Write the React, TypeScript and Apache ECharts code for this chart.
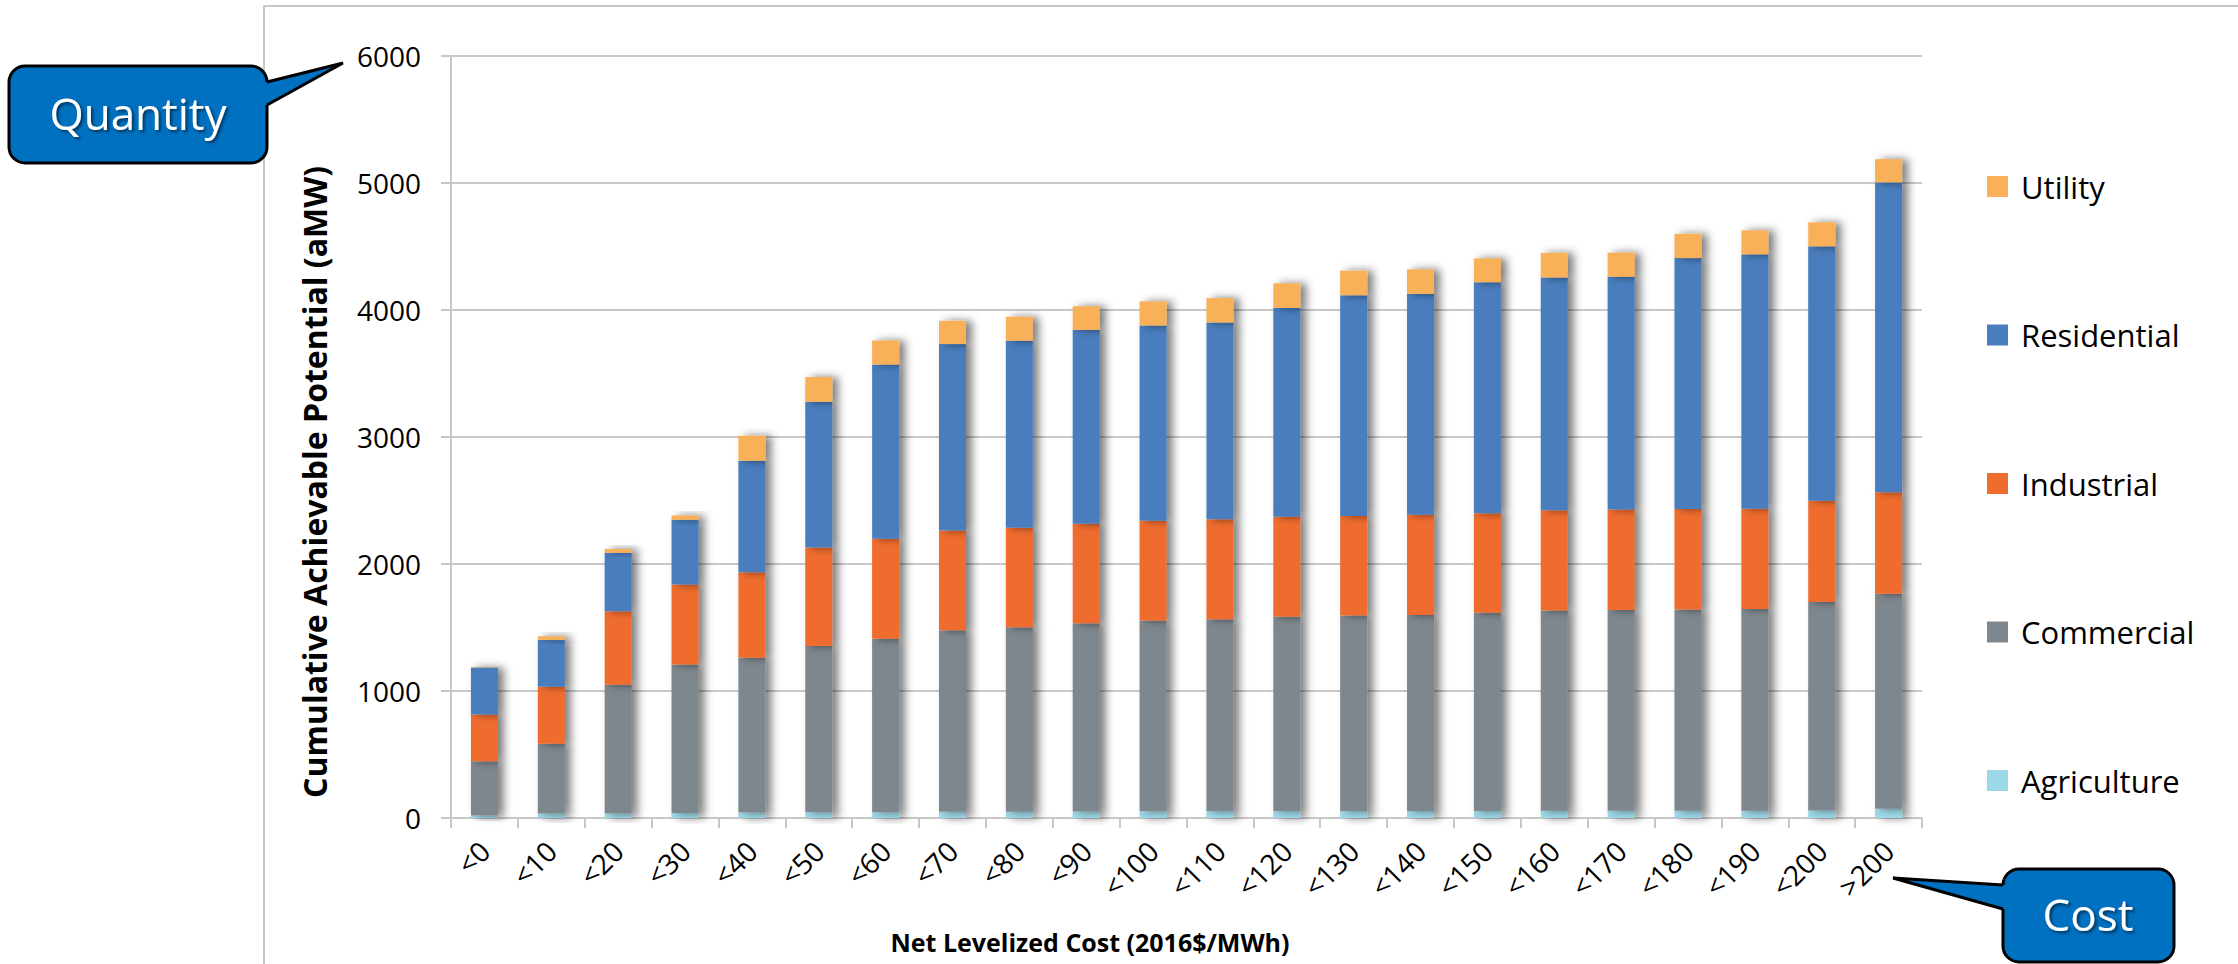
import React, { useEffect, useRef } from 'react';
import * as echarts from 'echarts';

// Net levelized cost bins (2016$/MWh)
const categories = [
  '<0', '<10', '<20', '<30', '<40', '<50', '<60', '<70', '<80', '<90', '<100',
  '<110', '<120', '<130', '<140', '<150', '<160', '<170', '<180', '<190', '<200', '>200',
];

// Cumulative achievable potential by sector (aMW), stacked bottom to top
const agriculture = [20, 36, 36, 40, 43, 46, 46, 50, 50, 52, 53, 54, 55, 55, 56, 56, 57, 57, 58, 58, 60, 72];
const commercial = [426, 549, 1014, 1168, 1219, 1309, 1366, 1429, 1452, 1481, 1503, 1511, 1529, 1540, 1543, 1561, 1577, 1580, 1584, 1587, 1640, 1694];
const industrial = [369, 449, 577, 631, 674, 775, 786, 784, 783, 783, 785, 787, 788, 783, 788, 782, 790, 793, 792, 791, 798, 798];
const residential = [371, 368, 461, 509, 877, 1147, 1372, 1469, 1473, 1527, 1537, 1550, 1644, 1738, 1740, 1820, 1832, 1832, 1975, 2002, 2003, 2441];
const utility = [4, 29, 30, 34, 197, 195, 190, 183, 188, 187, 190, 192, 194, 194, 193, 188, 194, 190, 191, 189, 189, 183];

const sectorNames = ['Agriculture', 'Commercial', 'Industrial', 'Residential', 'Utility'];
const sectorValues = [agriculture, commercial, industrial, residential, utility];
const sectorColors = ['#9CD8E7', '#7E878D', '#EF6C2F', '#4A7DBD', '#F8B158'];
const legendOrder = ['Utility', 'Residential', 'Industrial', 'Commercial', 'Agriculture'];

const yMin = 0;
const yMax = 6000;
const yStep = 1000;

const xTitle = 'Net Levelized Cost (2016$/MWh)';
const yTitle = 'Cumulative Achievable Potential (aMW)';

const FONT = '"Open Sans", "Noto Sans", Lato, sans-serif';
const GRID_GRAY = '#C8C8C8';
const CALLOUT_BLUE = '#0070C0';

function callout(
  box: { x: number; y: number; w: number; h: number },
  wedge: { a: [number, number]; tip: [number, number]; b: [number, number]; inset: number },
  label: string,
  labelPos: [number, number],
) {
  const [ax, ay] = wedge.a;
  const [bx, by] = wedge.b;
  return [
    {
      type: 'rect',
      z: 100,
      shape: { x: box.x, y: box.y, width: box.w, height: box.h, r: 16 },
      style: { fill: CALLOUT_BLUE, stroke: '#000', lineWidth: 3 },
    },
    {
      type: 'polygon',
      z: 101,
      shape: {
        points: [
          [ax + wedge.inset, ay],
          [ax, ay],
          wedge.tip,
          [bx, by],
          [bx + wedge.inset, by],
        ],
      },
      style: { fill: CALLOUT_BLUE },
    },
    {
      type: 'polyline',
      z: 102,
      shape: { points: [wedge.a, wedge.tip, wedge.b] },
      style: { fill: 'none', stroke: '#000', lineWidth: 3, lineJoin: 'miter' },
    },
    {
      type: 'text',
      z: 103,
      x: labelPos[0],
      y: labelPos[1],
      style: {
        text: label,
        align: 'center',
        verticalAlign: 'middle',
        fill: '#FFFFFF',
        fontSize: 44,
        fontFamily: FONT,
        textShadowColor: 'rgba(0,0,0,0.55)',
        textShadowBlur: 3,
        textShadowOffsetX: 2,
        textShadowOffsetY: 2,
      },
    },
  ];
}

export default function App() {
  const ref = useRef<HTMLDivElement>(null);

  useEffect(() => {
    if (!ref.current) return;
    const chart = echarts.init(ref.current, undefined, { renderer: 'svg' });

    const series = sectorNames.map((name, i) => ({
      name,
      type: 'bar',
      stack: 'total',
      barWidth: 27,
      data: sectorValues[i],
      itemStyle: {
        color: sectorColors[i],
        shadowColor: 'rgba(0,0,0,0.5)',
        shadowBlur: 9,
        shadowOffsetX: 6,
        shadowOffsetY: 0,
      },
      emphasis: { disabled: true },
    }));

    chart.setOption({
      animation: false,
      backgroundColor: '#FFFFFF',
      textStyle: { fontFamily: FONT },
      grid: { left: 451, top: 56, width: 1471, height: 762, containLabel: false },
      legend: {
        orient: 'vertical',
        left: 1987,
        top: 171,
        padding: 0,
        itemWidth: 21,
        itemHeight: 21,
        itemGap: 117.5,
        icon: 'rect',
        data: legendOrder,
        selectedMode: false,
        textStyle: { fontSize: 31, color: '#000', fontFamily: FONT, padding: [0, 0, 0, 8] },
      },
      xAxis: {
        type: 'category',
        data: categories,
        axisLine: { show: true, lineStyle: { color: GRID_GRAY, width: 2 } },
        axisTick: { show: true, length: 10, lineStyle: { color: GRID_GRAY, width: 2 } },
        axisLabel: { rotate: 45, fontSize: 28, color: '#000', margin: 28, interval: 0, fontFamily: FONT },
      },
      yAxis: {
        type: 'value',
        min: yMin,
        max: yMax,
        interval: yStep,
        axisLine: { show: true, lineStyle: { color: GRID_GRAY, width: 2 } },
        axisTick: { show: true, length: 10, lineStyle: { color: GRID_GRAY, width: 2 } },
        axisLabel: {
          fontSize: 28,
          color: '#000',
          margin: 30,
          fontFamily: FONT,
          formatter: (v: number) => String(v),
        },
        splitLine: { show: true, lineStyle: { color: GRID_GRAY, width: 2 } },
      },
      series,
      graphic: [
        {
          type: 'rect',
          z: 0,
          silent: true,
          shape: { x: 264, y: 6, width: 2400, height: 1200 },
          style: { fill: 'none', stroke: GRID_GRAY, lineWidth: 2 },
        },
        {
          type: 'text',
          z: 50,
          x: 1090,
          y: 942,
          style: {
            text: xTitle,
            align: 'center',
            verticalAlign: 'middle',
            fill: '#000',
            fontSize: 25,
            fontWeight: 'bold',
            fontFamily: FONT,
          },
        },
        {
          type: 'text',
          z: 50,
          x: 314,
          y: 482,
          rotation: Math.PI / 2,
          style: {
            text: yTitle,
            align: 'center',
            verticalAlign: 'middle',
            fill: '#000',
            fontSize: 32,
            fontWeight: 'bold',
            fontFamily: FONT,
          },
        },
        ...callout(
          { x: 9, y: 66, w: 258, h: 97 },
          { a: [267, 82], tip: [343, 63], b: [267, 105], inset: -10 },
          'Quantity',
          [138, 113],
        ),
        ...callout(
          { x: 2003, y: 869, w: 171, h: 93 },
          { a: [2003, 885], tip: [1893, 878], b: [2003, 909], inset: 10 },
          'Cost',
          [2088, 914],
        ),
      ],
    });

    return () => chart.dispose();
  }, []);

  return (
    <div
      ref={ref}
      style={{ position: 'fixed', left: 0, top: 0, width: 2238, height: 964, background: '#fff' }}
    />
  );
}
